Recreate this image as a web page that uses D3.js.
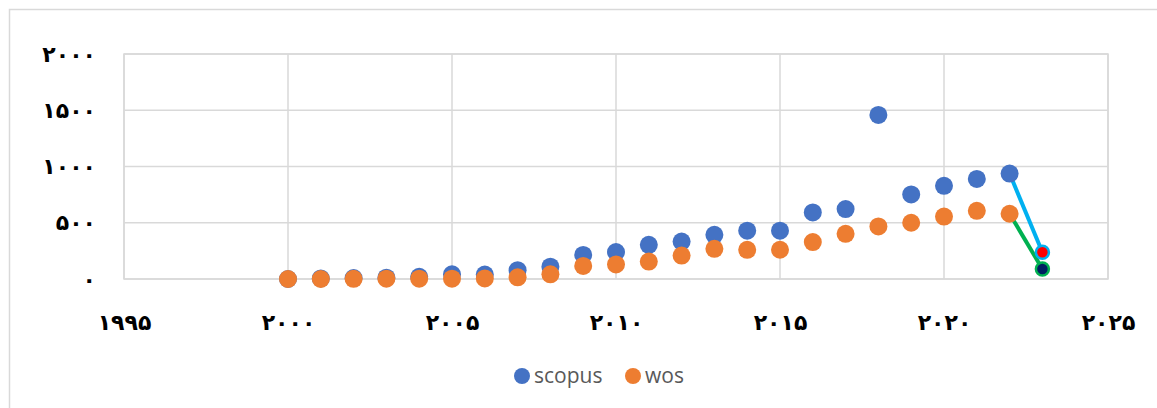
<!DOCTYPE html>
<html>
<head>
<meta charset="utf-8">
<script src="https://cdn.jsdelivr.net/npm/d3@7"></script>
<style>
  html, body { margin: 0; padding: 0; background: #fff; }
  svg { display: block; }
</style>
</head>
<body>
<svg id="chart" width="1157" height="408"></svg>
<script>
// ---- data ----
const years = [2000,2001,2002,2003,2004,2005,2006,2007,2008,2009,2010,2011,2012,2013,2014,2015,2016,2017,2018,2019,2020,2021,2022];
const scopus = [0,5,8,12,20,42,40,78,110,214,240,304,333,393,429,429,592,622,1458,752,828,890,937];
const wos = [0,0,2,3,3,3,5,15,42,116,130,155,208,268,259,260,328,402,467,500,555,606,580];
const forecastYear = 2023;
const scopusForecast = 238;
const wosForecast = 89;
const xTicks = [1995,2000,2005,2010,2015,2020,2025];
const yTicks = [0,500,1000,1500,2000];
const seriesNames = ["scopus","wos"];

const faDigits = "۰۱۲۳۴۵۶۷۸۹";
const toFa = n => String(n).replace(/[0-9]/g, d => faDigits[+d]);

// ---- layout ----
const svg = d3.select("#chart");
const plot = {left:124, right:1108, top:54, bottom:279};
const x = d3.scaleLinear().domain([1995,2025]).range([plot.left, plot.right]);
const y = d3.scaleLinear().domain([0,2000]).range([plot.bottom, plot.top]);

const grid = "#d9d9d9";
// outer chart border
svg.append("rect").attr("x",9.5).attr("y",9.5).attr("width",1160).attr("height",410)
  .attr("fill","#fff").attr("stroke",grid).attr("stroke-width",1.5);

// gridlines
svg.append("g").selectAll("line").data(yTicks).join("line")
  .attr("x1",plot.left).attr("x2",plot.right)
  .attr("y1",d=>y(d)).attr("y2",d=>y(d))
  .attr("stroke",grid).attr("stroke-width",1.5);
svg.append("g").selectAll("line").data(xTicks).join("line")
  .attr("y1",plot.top).attr("y2",plot.bottom)
  .attr("x1",d=>x(d)).attr("x2",d=>x(d))
  .attr("stroke",grid).attr("stroke-width",1.5);
svg.append("rect").attr("x",plot.left).attr("y",plot.top)
  .attr("width",plot.right-plot.left).attr("height",plot.bottom-plot.top)
  .attr("fill","none").attr("stroke",grid).attr("stroke-width",1.5);

// axes
const fontAr = "'DejaVu Sans', 'Noto Sans', sans-serif";
const yAxis = d3.axisLeft(y).tickValues(yTicks).tickFormat(toFa).tickSize(0).tickPadding(28);
const gy = svg.append("g").attr("transform",`translate(${plot.left},0)`).call(yAxis);
gy.select(".domain").remove();
gy.selectAll("text").attr("font-family",fontAr).attr("font-size",22).attr("font-weight","bold").attr("fill","#000");

const xAxis = d3.axisBottom(x).tickValues(xTicks).tickFormat(toFa).tickSize(0).tickPadding(35);
const gx = svg.append("g").attr("transform",`translate(0,${plot.bottom})`).call(xAxis);
gx.select(".domain").remove();
gx.selectAll("text").attr("font-family",fontAr).attr("font-size",22).attr("font-weight","bold").attr("fill","#000");

// forecast connector lines
svg.append("line")
  .attr("x1",x(years[years.length-1])).attr("y1",y(scopus[scopus.length-1]))
  .attr("x2",x(forecastYear)).attr("y2",y(scopusForecast))
  .attr("stroke","#00B0F0").attr("stroke-width",4);
svg.append("line")
  .attr("x1",x(years[years.length-1])).attr("y1",y(wos[wos.length-1]))
  .attr("x2",x(forecastYear)).attr("y2",y(wosForecast))
  .attr("stroke","#00B050").attr("stroke-width",4);

// points
const r = 9;
svg.append("g").selectAll("circle").data(years).join("circle")
  .attr("cx",d=>x(d)).attr("cy",(d,i)=>y(scopus[i])).attr("r",r).attr("fill","#4472C4");
svg.append("g").selectAll("circle").data(years).join("circle")
  .attr("cx",d=>x(d)).attr("cy",(d,i)=>y(wos[i])).attr("r",r).attr("fill","#ED7D31");

svg.append("circle").attr("cx",x(forecastYear)).attr("cy",y(scopusForecast)).attr("r",6.5)
  .attr("fill","#FF0000").attr("stroke","#00B0F0").attr("stroke-width",2.5);
svg.append("circle").attr("cx",x(forecastYear)).attr("cy",y(wosForecast)).attr("r",6.5)
  .attr("fill","#002060").attr("stroke","#00B050").attr("stroke-width",2.5);

// legend
const legendColors = ["#4472C4","#ED7D31"];
const legendX = [522, 633];
const lg = svg.append("g");
seriesNames.forEach((name,i)=>{
  lg.append("circle").attr("cx",legendX[i]).attr("cy",376).attr("r",8).attr("fill",legendColors[i]);
  lg.append("text").attr("x",legendX[i]+12).attr("y",383).text(name)
    .attr("font-family","'Open Sans', sans-serif").attr("font-size",21).attr("fill","#595959");
});
</script>
</body>
</html>
